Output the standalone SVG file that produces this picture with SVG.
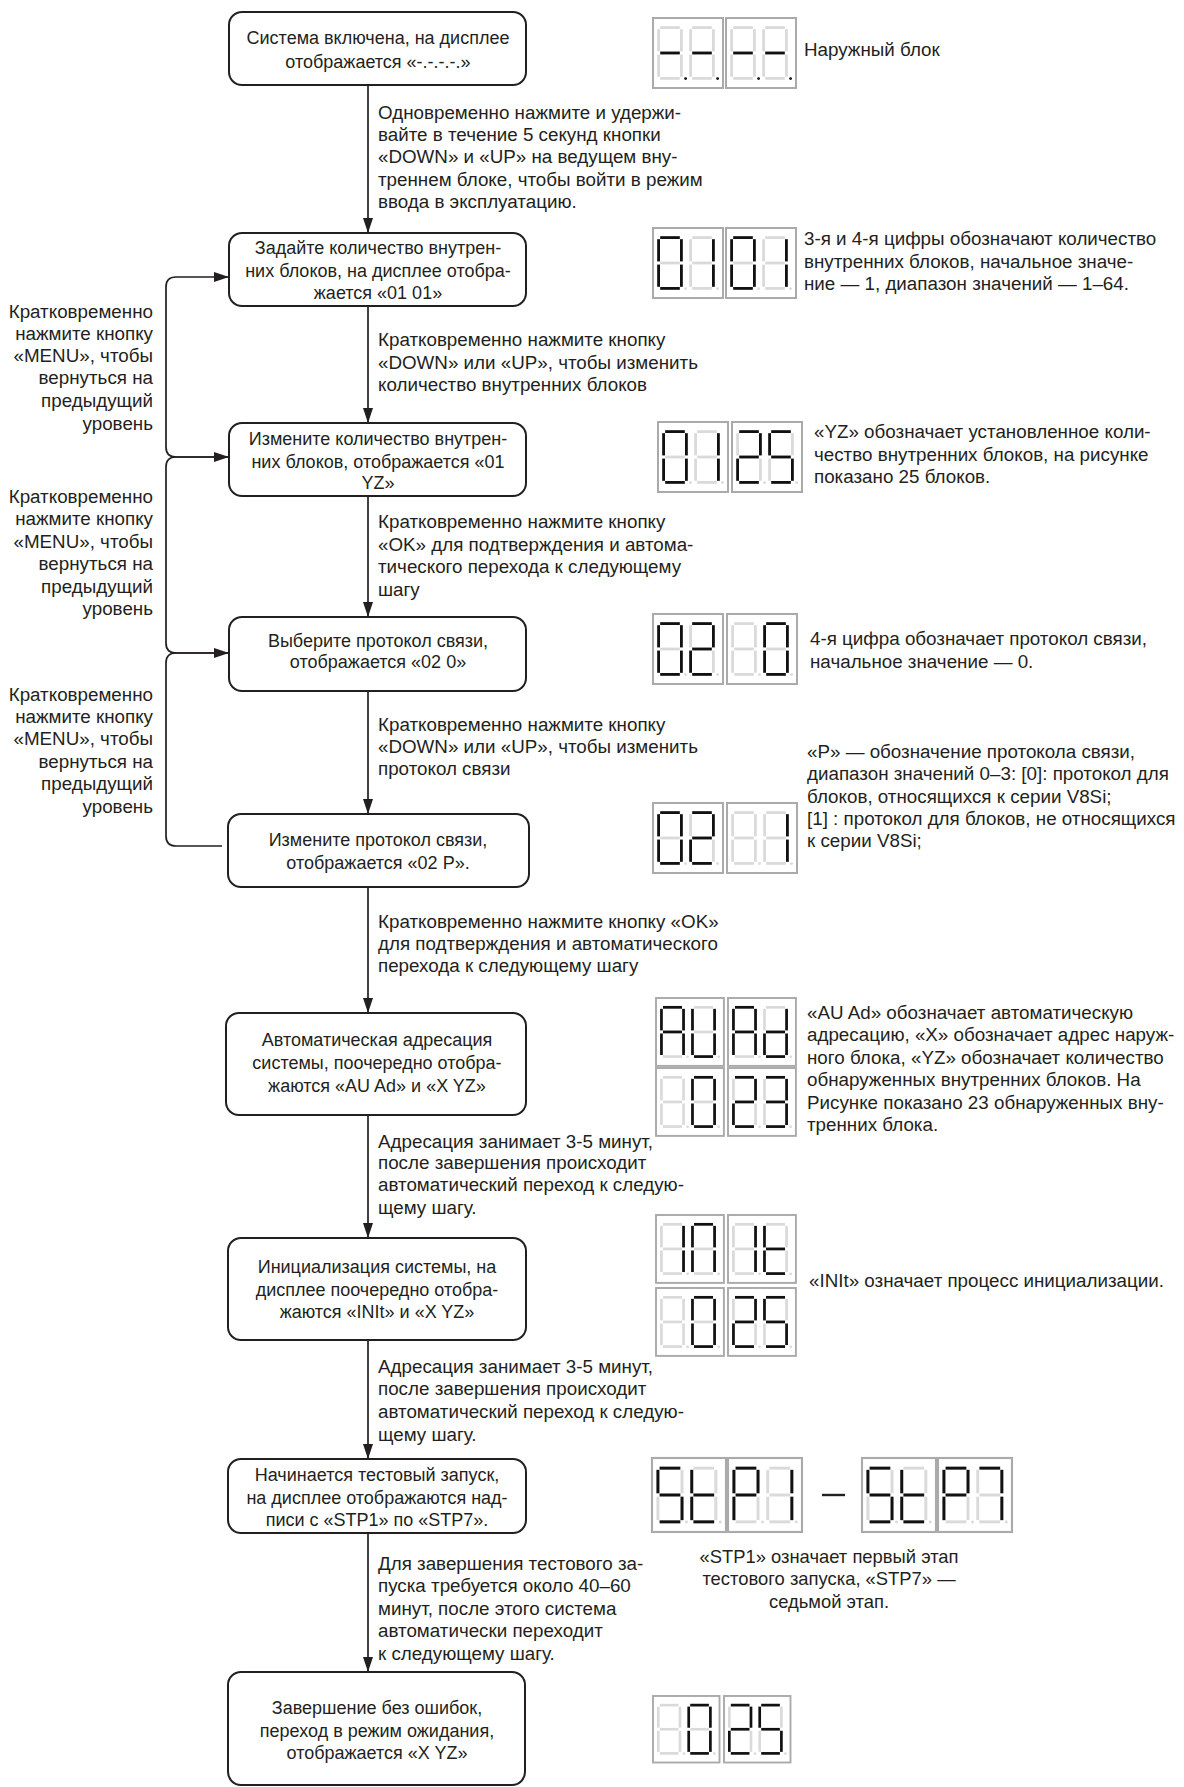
<svg xmlns="http://www.w3.org/2000/svg" xmlns:xlink="http://www.w3.org/1999/xlink" width="1184" height="1787" viewBox="0 0 1184 1787">
<style>
text{font-family:"Liberation Sans",Arial,sans-serif;font-size:18.8px;fill:#231f20}
.bt{font-size:18px}
.cap{font-size:18.4px}
.c{text-anchor:middle}
.r{text-anchor:end}
.box{fill:#fff;stroke:#231f20;stroke-width:2}
.conn{fill:none;stroke:#231f20;stroke-width:1.7}
.frm{fill:#fff;stroke:#aaaaaa;stroke-width:2}
.off{stroke:#dadada;fill:#dadada;stroke-width:2.8}
.on{stroke:#111;fill:#111;stroke-width:2.8}
</style>
<defs>
<marker id="ah" viewBox="0 0 15 10" refX="15" refY="5" markerWidth="15" markerHeight="10" markerUnits="userSpaceOnUse" orient="auto">
<path d="M0,0 L15,5 L0,10 z" fill="#231f20"/>
</marker>
<line id="sa" x1="3.2" y1="1.6" x2="22.8" y2="1.6"/>
<line id="sb" x1="24.4" y1="3.2" x2="24.4" y2="25.4"/>
<line id="sc" x1="24.4" y1="28.6" x2="24.4" y2="50.8"/>
<line id="sd" x1="3.2" y1="52.4" x2="22.8" y2="52.4"/>
<line id="se" x1="1.6" y1="28.6" x2="1.6" y2="50.8"/>
<line id="sf" x1="1.6" y1="3.2" x2="1.6" y2="25.4"/>
<line id="sg" x1="3.2" y1="27" x2="22.8" y2="27"/>
<circle id="sp" cx="28.6" cy="52.6" r="1.4" stroke="none"/>
<g id="d8"><use href="#sa"/><use href="#sb"/><use href="#sc"/><use href="#sd"/><use href="#se"/><use href="#sf"/><use href="#sg"/><use href="#sp"/></g>
<g id="c0"><use href="#sa"/><use href="#sb"/><use href="#sc"/><use href="#sd"/><use href="#se"/><use href="#sf"/></g>
<g id="c1"><use href="#sb"/><use href="#sc"/></g>
<g id="c2"><use href="#sa"/><use href="#sb"/><use href="#sg"/><use href="#se"/><use href="#sd"/></g>
<g id="c3"><use href="#sa"/><use href="#sb"/><use href="#sg"/><use href="#sc"/><use href="#sd"/></g>
<g id="c5"><use href="#sa"/><use href="#sf"/><use href="#sg"/><use href="#sc"/><use href="#sd"/></g>
<g id="c7"><use href="#sa"/><use href="#sb"/><use href="#sc"/></g>
<g id="cA"><use href="#sa"/><use href="#sb"/><use href="#sc"/><use href="#se"/><use href="#sf"/><use href="#sg"/></g>
<g id="cU"><use href="#sb"/><use href="#sc"/><use href="#sd"/><use href="#se"/><use href="#sf"/></g>
<g id="cd"><use href="#sb"/><use href="#sc"/><use href="#sd"/><use href="#se"/><use href="#sg"/></g>
<g id="cN"><use href="#sa"/><use href="#sb"/><use href="#sc"/><use href="#se"/><use href="#sf"/></g>
<g id="ct"><use href="#sd"/><use href="#se"/><use href="#sf"/><use href="#sg"/></g>
<g id="cP"><use href="#sa"/><use href="#sb"/><use href="#se"/><use href="#sf"/><use href="#sg"/></g>
<g id="cm"><use href="#sg"/><use href="#sp"/></g>
<rect id="fr" class="frm" x="0" y="0" width="70" height="70"/>
</defs>

<g id="connectors">
<path class="conn" d="M368,85 V233" marker-end="url(#ah)"/>
<path class="conn" d="M368,306 V423" marker-end="url(#ah)"/>
<path class="conn" d="M368,496 V617" marker-end="url(#ah)"/>
<path class="conn" d="M368,691 V814" marker-end="url(#ah)"/>
<path class="conn" d="M368,887 V1013" marker-end="url(#ah)"/>
<path class="conn" d="M368,1115 V1238" marker-end="url(#ah)"/>
<path class="conn" d="M368,1340 V1459" marker-end="url(#ah)"/>
<path class="conn" d="M368,1533 V1672" marker-end="url(#ah)"/>
<path class="conn" d="M229,457 H176 Q166,457 166,447 V287 Q166,277 176,277 H229" marker-end="url(#ah)"/>
<path class="conn" d="M229,653 H176 Q166,653 166,643 V467 Q166,457 176,457 H229" marker-end="url(#ah)"/>
<path class="conn" d="M222,846 H176 Q166,846 166,836 V663 Q166,653 176,653 H229" marker-end="url(#ah)"/>
</g>

<g id="connector-labels">
<text x="378" y="119">Одновременно нажмите и удержи-</text>
<text x="378" y="141">вайте в течение 5 секунд кнопки</text>
<text x="378" y="163">«DOWN» и «UP» на ведущем вну-</text>
<text x="378" y="186">треннем блоке, чтобы войти в режим</text>
<text x="378" y="208">ввода в эксплуатацию.</text>

<text x="378" y="346">Кратковременно нажмите кнопку</text>
<text x="378" y="369">«DOWN» или «UP», чтобы изменить</text>
<text x="378" y="391">количество внутренних блоков</text>

<text x="378" y="528">Кратковременно нажмите кнопку</text>
<text x="378" y="551">«OK» для подтверждения и автома-</text>
<text x="378" y="573">тического перехода к следующему</text>
<text x="378" y="596">шагу</text>

<text x="378" y="731">Кратковременно нажмите кнопку</text>
<text x="378" y="753">«DOWN» или «UP», чтобы изменить</text>
<text x="378" y="775">протокол связи</text>

<text x="378" y="928">Кратковременно нажмите кнопку «OK»</text>
<text x="378" y="950">для подтверждения и автоматического</text>
<text x="378" y="972">перехода к следующему шагу</text>

<text x="378" y="1148">Адресация занимает 3-5 минут,</text>
<text x="378" y="1169">после завершения происходит</text>
<text x="378" y="1191">автоматический переход к следую-</text>
<text x="378" y="1214">щему шагу.</text>

<text x="378" y="1373">Адресация занимает 3-5 минут,</text>
<text x="378" y="1395">после завершения происходит</text>
<text x="378" y="1418">автоматический переход к следую-</text>
<text x="378" y="1441">щему шагу.</text>

<text x="378" y="1570">Для завершения тестового за-</text>
<text x="378" y="1592">пуска требуется около 40–60</text>
<text x="378" y="1615">минут, после этого система</text>
<text x="378" y="1637">автоматически переходит</text>
<text x="378" y="1660">к следующему шагу.</text>

<text class="r" x="153" y="318">Кратковременно</text>
<text class="r" x="153" y="340">нажмите кнопку</text>
<text class="r" x="153" y="362">«MENU», чтобы</text>
<text class="r" x="153" y="384">вернуться на</text>
<text class="r" x="153" y="407">предыдущий</text>
<text class="r" x="153" y="430">уровень</text>

<text class="r" x="153" y="503">Кратковременно</text>
<text class="r" x="153" y="525">нажмите кнопку</text>
<text class="r" x="153" y="548">«MENU», чтобы</text>
<text class="r" x="153" y="570">вернуться на</text>
<text class="r" x="153" y="593">предыдущий</text>
<text class="r" x="153" y="615">уровень</text>

<text class="r" x="153" y="701">Кратковременно</text>
<text class="r" x="153" y="723">нажмите кнопку</text>
<text class="r" x="153" y="745">«MENU», чтобы</text>
<text class="r" x="153" y="768">вернуться на</text>
<text class="r" x="153" y="790">предыдущий</text>
<text class="r" x="153" y="813">уровень</text>
</g>

<g id="node-1">
<rect class="box" x="229" y="12" width="297" height="73" rx="13"/>
<text class="c bt" x="378" y="44">Система включена, на дисплее</text>
<text class="c bt" x="378" y="68">отображается «-.-.-.-.»</text>
</g>
<g id="node-2">
<rect class="box" x="229" y="233" width="297" height="73" rx="13"/>
<text class="c bt" x="378" y="254">Задайте количество внутрен-</text>
<text class="c bt" x="378" y="277">них блоков, на дисплее отобра-</text>
<text class="c bt" x="378" y="299">жается «01 01»</text>
</g>
<g id="node-3">
<rect class="box" x="229" y="423" width="297" height="73" rx="13"/>
<text class="c bt" x="378" y="445">Измените количество внутрен-</text>
<text class="c bt" x="378" y="468">них блоков, отображается «01</text>
<text class="c bt" x="378" y="489">YZ»</text>
</g>
<g id="node-4">
<rect class="box" x="229" y="617" width="297" height="74" rx="13"/>
<text class="c bt" x="378" y="647">Выберите протокол связи,</text>
<text class="c bt" x="378" y="668">отображается «02 0»</text>
</g>
<g id="node-5">
<rect class="box" x="228" y="814" width="301" height="73" rx="13"/>
<text class="c bt" x="378" y="846">Измените протокол связи,</text>
<text class="c bt" x="378" y="869">отображается «02 P».</text>
</g>
<g id="node-6">
<rect class="box" x="226" y="1013" width="300" height="102" rx="13"/>
<text class="c bt" x="377" y="1046">Автоматическая адресация</text>
<text class="c bt" x="377" y="1069">системы, поочередно отобра-</text>
<text class="c bt" x="377" y="1092">жаются «AU Ad» и «X YZ»</text>
</g>
<g id="node-7">
<rect class="box" x="228" y="1238" width="298" height="102" rx="13"/>
<text class="c bt" x="377" y="1273">Инициализация системы, на</text>
<text class="c bt" x="377" y="1296">дисплее поочередно отобра-</text>
<text class="c bt" x="377" y="1318">жаются «INIt» и «X YZ»</text>
</g>
<g id="node-8">
<rect class="box" x="228" y="1459" width="298" height="74" rx="13"/>
<text class="c bt" x="377" y="1481">Начинается тестовый запуск,</text>
<text class="c bt" x="377" y="1504">на дисплее отображаются над-</text>
<text class="c bt" x="377" y="1526">писи с «STP1» по «STP7».</text>
</g>
<g id="node-9">
<rect class="box" x="228" y="1672" width="297" height="113" rx="13"/>
<text class="c bt" x="377" y="1714">Завершение без ошибок,</text>
<text class="c bt" x="377" y="1737">переход в режим ожидания,</text>
<text class="c bt" x="377" y="1759">отображается «X YZ»</text>
</g>

<g id="display-1">
<g transform="translate(653,18)"><use href="#fr"/>
<g transform="translate(4,8)"><use class="off" href="#d8"/><use class="on" href="#cm"/></g>
<g transform="translate(36,8)"><use class="off" href="#d8"/><use class="on" href="#cm"/></g></g>
<g transform="translate(726,18)"><use href="#fr"/>
<g transform="translate(4,8)"><use class="off" href="#d8"/><use class="on" href="#cm"/></g>
<g transform="translate(36,8)"><use class="off" href="#d8"/><use class="on" href="#cm"/></g></g>
<text x="804" y="56">Наружный блок</text>
</g>

<g id="display-2">
<g transform="translate(653,228)"><use href="#fr"/>
<g transform="translate(4,8)"><use class="off" href="#d8"/><use class="on" href="#c0"/></g>
<g transform="translate(36,8)"><use class="off" href="#d8"/><use class="on" href="#c1"/></g></g>
<g transform="translate(726,228)"><use href="#fr"/>
<g transform="translate(4,8)"><use class="off" href="#d8"/><use class="on" href="#c0"/></g>
<g transform="translate(36,8)"><use class="off" href="#d8"/><use class="on" href="#c1"/></g></g>
<text x="804" y="245">3-я и 4-я цифры обозначают количество</text>
<text x="804" y="268">внутренних блоков, начальное значе-</text>
<text x="804" y="290">ние — 1, диапазон значений — 1–64.</text>
</g>

<g id="display-3">
<g transform="translate(658,422)"><use href="#fr"/>
<g transform="translate(4,8)"><use class="off" href="#d8"/><use class="on" href="#c0"/></g>
<g transform="translate(36,8)"><use class="off" href="#d8"/><use class="on" href="#c1"/></g></g>
<g transform="translate(732,422)"><use href="#fr"/>
<g transform="translate(4,8)"><use class="off" href="#d8"/><use class="on" href="#c2"/></g>
<g transform="translate(36,8)"><use class="off" href="#d8"/><use class="on" href="#c5"/></g></g>
<text x="814" y="438">«YZ» обозначает установленное коли-</text>
<text x="814" y="461">чество внутренних блоков, на рисунке</text>
<text x="814" y="483">показано 25 блоков.</text>
</g>

<g id="display-4">
<g transform="translate(653,614)"><use href="#fr"/>
<g transform="translate(4,8)"><use class="off" href="#d8"/><use class="on" href="#c0"/></g>
<g transform="translate(36,8)"><use class="off" href="#d8"/><use class="on" href="#c2"/></g></g>
<g transform="translate(727,614)"><use href="#fr"/>
<g transform="translate(4,8)"><use class="off" href="#d8"/></g>
<g transform="translate(36,8)"><use class="off" href="#d8"/><use class="on" href="#c0"/></g></g>
<text x="810" y="645">4-я цифра обозначает протокол связи,</text>
<text x="810" y="668">начальное значение — 0.</text>
</g>

<g id="display-5">
<g transform="translate(653,803)"><use href="#fr"/>
<g transform="translate(4,8)"><use class="off" href="#d8"/><use class="on" href="#c0"/></g>
<g transform="translate(36,8)"><use class="off" href="#d8"/><use class="on" href="#c2"/></g></g>
<g transform="translate(727,803)"><use href="#fr"/>
<g transform="translate(4,8)"><use class="off" href="#d8"/></g>
<g transform="translate(36,8)"><use class="off" href="#d8"/><use class="on" href="#c1"/></g></g>
<text x="807" y="758">«P» — обозначение протокола связи,</text>
<text x="807" y="780">диапазон значений 0–3: [0]: протокол для</text>
<text x="807" y="803">блоков, относящихся к серии V8Si;</text>
<text x="807" y="825">[1] : протокол для блоков, не относящихся</text>
<text x="807" y="847">к серии V8Si;</text>
</g>

<g id="display-6">
<g transform="translate(656,998) scale(0.97)"><use href="#fr"/>
<g transform="translate(4,8)"><use class="off" href="#d8"/><use class="on" href="#cA"/></g>
<g transform="translate(36,8)"><use class="off" href="#d8"/><use class="on" href="#cU"/></g></g>
<g transform="translate(728,998) scale(0.97)"><use href="#fr"/>
<g transform="translate(4,8)"><use class="off" href="#d8"/><use class="on" href="#cA"/></g>
<g transform="translate(36,8)"><use class="off" href="#d8"/><use class="on" href="#cd"/></g></g>
<g transform="translate(656,1068) scale(0.97)"><use href="#fr"/>
<g transform="translate(4,8)"><use class="off" href="#d8"/></g>
<g transform="translate(36,8)"><use class="off" href="#d8"/><use class="on" href="#c0"/></g></g>
<g transform="translate(728,1068) scale(0.97)"><use href="#fr"/>
<g transform="translate(4,8)"><use class="off" href="#d8"/><use class="on" href="#c2"/></g>
<g transform="translate(36,8)"><use class="off" href="#d8"/><use class="on" href="#c3"/></g></g>
<text x="807" y="1019">«AU Ad» обозначает автоматическую</text>
<text x="807" y="1041">адресацию, «X» обозначает адрес наруж-</text>
<text x="807" y="1064">ного блока, «YZ» обозначает количество</text>
<text x="807" y="1086">обнаруженных внутренних блоков. На</text>
<text x="807" y="1109">Рисунке показано 23 обнаруженных вну-</text>
<text x="807" y="1131">тренних блока.</text>
</g>

<g id="display-7">
<g transform="translate(656,1215) scale(0.97)"><use href="#fr"/>
<g transform="translate(4,8)"><use class="off" href="#d8"/><use class="on" href="#c1"/></g>
<g transform="translate(36,8)"><use class="off" href="#d8"/><use class="on" href="#cN"/></g></g>
<g transform="translate(728,1215) scale(0.97)"><use href="#fr"/>
<g transform="translate(4,8)"><use class="off" href="#d8"/><use class="on" href="#c1"/></g>
<g transform="translate(36,8)"><use class="off" href="#d8"/><use class="on" href="#ct"/></g></g>
<g transform="translate(656,1288) scale(0.97)"><use href="#fr"/>
<g transform="translate(4,8)"><use class="off" href="#d8"/></g>
<g transform="translate(36,8)"><use class="off" href="#d8"/><use class="on" href="#c0"/></g></g>
<g transform="translate(728,1288) scale(0.97)"><use href="#fr"/>
<g transform="translate(4,8)"><use class="off" href="#d8"/><use class="on" href="#c2"/></g>
<g transform="translate(36,8)"><use class="off" href="#d8"/><use class="on" href="#c5"/></g></g>
<text x="809" y="1287">«INIt» означает процесс инициализации.</text>
</g>

<g id="display-8">
<g transform="translate(652,1458) scale(1.057)"><use href="#fr"/>
<g transform="translate(4,8)"><use class="off" href="#d8"/><use class="on" href="#c5"/></g>
<g transform="translate(36,8)"><use class="off" href="#d8"/><use class="on" href="#ct"/></g></g>
<g transform="translate(728,1458) scale(1.057)"><use href="#fr"/>
<g transform="translate(4,8)"><use class="off" href="#d8"/><use class="on" href="#cP"/></g>
<g transform="translate(36,8)"><use class="off" href="#d8"/><use class="on" href="#c1"/></g></g>
<line x1="822" y1="1495" x2="845" y2="1495" stroke="#231f20" stroke-width="2.4"/>
<g transform="translate(862,1458) scale(1.057)"><use href="#fr"/>
<g transform="translate(4,8)"><use class="off" href="#d8"/><use class="on" href="#c5"/></g>
<g transform="translate(36,8)"><use class="off" href="#d8"/><use class="on" href="#ct"/></g></g>
<g transform="translate(938,1458) scale(1.057)"><use href="#fr"/>
<g transform="translate(4,8)"><use class="off" href="#d8"/><use class="on" href="#cP"/></g>
<g transform="translate(36,8)"><use class="off" href="#d8"/><use class="on" href="#c7"/></g></g>
<text class="c cap" x="829" y="1563">«STP1» означает первый этап</text>
<text class="c cap" x="829" y="1585">тестового запуска, «STP7» —</text>
<text class="c cap" x="829" y="1608">седьмой этап.</text>
</g>

<g id="display-9">
<g transform="translate(653,1696) scale(0.95)"><use href="#fr"/>
<g transform="translate(4,8)"><use class="off" href="#d8"/></g>
<g transform="translate(36,8)"><use class="off" href="#d8"/><use class="on" href="#c0"/></g></g>
<g transform="translate(724,1696) scale(0.95)"><use href="#fr"/>
<g transform="translate(4,8)"><use class="off" href="#d8"/><use class="on" href="#c2"/></g>
<g transform="translate(36,8)"><use class="off" href="#d8"/><use class="on" href="#c5"/></g></g>
</g>
</svg>
